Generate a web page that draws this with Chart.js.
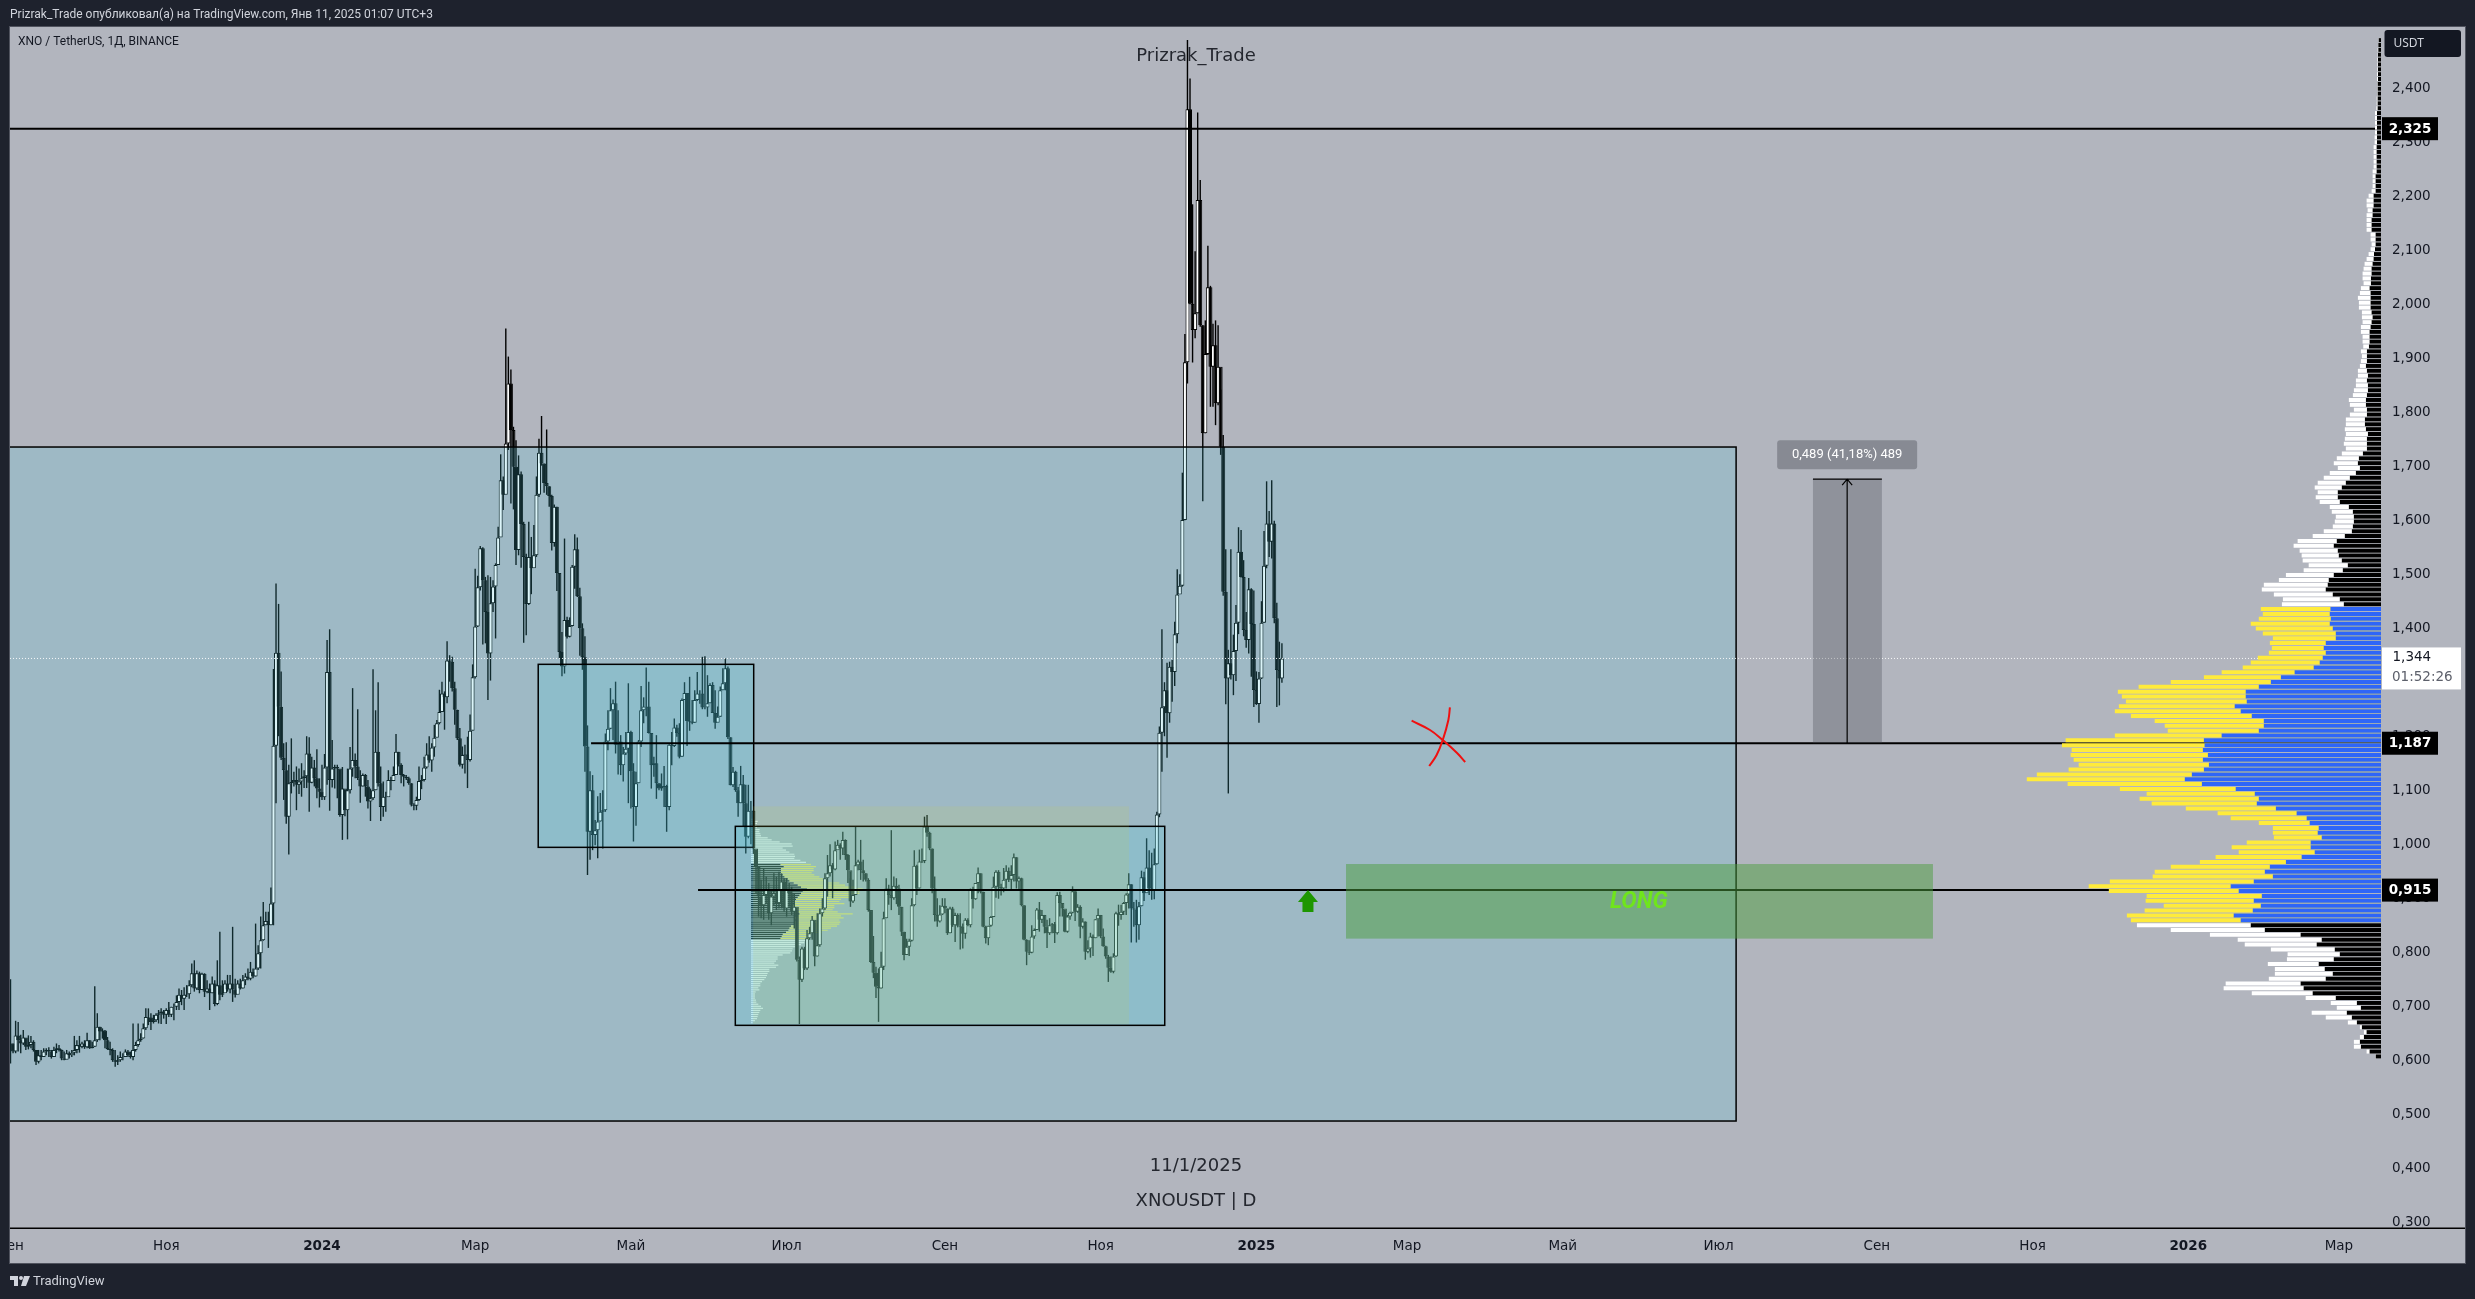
<!DOCTYPE html>
<html>
<head>
<meta charset="utf-8">
<title>XNOUSDT</title>
<style>
  html, body { margin: 0; padding: 0; background: #1e222d; }
  canvas { display: block; }
</style>
<script src="https://cdn.jsdelivr.net/npm/chart.js@4/dist/chart.umd.min.js"></script>
</head>
<body>
<canvas id="chart" width="2475" height="1299"></canvas>
<script>
// daily candles, day 0 is 1 Jan 2024, one row is ten days
const firstDay = -122;
const firstOpen = 0.63;
const closes = [
  .631,.616,.646,.637,.631,.642,.625,.628,.634,.619,
  .597,.609,.606,.616,.619,.616,.606,.619,.622,.619,
  .603,.601,.613,.609,.614,.619,.628,.625,.631,.624,
  .637,.622,.625,.637,.662,.653,.655,.637,.621,.619,
  .600,.597,.600,.606,.606,.616,.609,.606,.619,.628,
  .637,.640,.659,.680,.679,.671,.674,.684,.687,.690,
  .684,.693,.684,.699,.699,.708,.721,.714,.721,.722,
  .739,.761,.733,.761,.730,.760,.727,.733,.724,.742,
  .704,.739,.721,.724,.742,.731,.742,.731,.721,.742,
  .733,.748,.755,.751,.764,.755,.770,.798,.822,.850,
  .858,.850,.89,1.1825,1.3547,1.2547,1.160,1.137,1.051,1.113,
  1.115,1.119,1.110,1.116,1.122,1.126,1.168,1.114,1.142,1.122,
  1.103,1.097,1.087,1.142,1.319,1.119,1.140,1.143,1.14,1.054,
  1.103,1.063,1.100,1.140,1.156,1.144,1.122,1.107,1.128,1.107,
  1.079,1.085,1.100,1.171,1.113,1.069,1.088,1.087,1.119,1.117,
  1.128,1.171,1.147,1.128,1.125,1.122,1.113,1.073,1.071,1.082,
  1.117,1.119,1.142,1.166,1.155,1.179,1.197,1.224,1.245,1.279,
  1.272,1.340,1.338,1.289,1.249,1.196,1.147,1.165,1.166,1.156,
  1.21,1.309,1.403,1.476,1.548,1.489,1.430,1.353,1.446,1.477,
  1.517,1.568,1.674,1.647,1.742,1.853,1.767,1.699,1.545,1.685,
  1.593,1.532,1.445,1.532,1.511,1.535,1.647,1.725,1.705,1.669,
  1.663,1.645,1.558,1.625,1.502,1.356,1.329,1.415,1.384,1.404,
  1.514,1.546,1.459,1.400,1.346,1.181,1.023,1.100,1.017,1.026,
  1.042,1.060,1.063,1.19,1.214,1.248,1.261,1.184,1.19,1.146,
  1.168,1.177,1.208,1.135,1.069,1.113,1.19,1.248,1.255,1.255,
  1.206,1.146,1.15,1.113,1.103,1.106,1.108,1.069,1.184,1.182,
  1.216,1.206,1.162,1.267,1.28,1.228,1.227,1.225,1.267,1.279,
  1.279,1.253,1.253,1.261,1.295,1.243,1.225,1.236,1.285,1.298,
  1.326,1.198,1.109,1.134,1.100,1.076,1.111,1.076,1.014,1.062,
  1.062,.992,.958,.903,.887,.906,.915,.872,.903,.909,
  .891,.915,.931,.881,.918,.909,.875,.884,.786,.749,
  .807,.770,.826,.835,.860,.792,.813,.872,.881,.937,
  .946,.961,.953,.989,.999,.992,1.008,.980,.952,.894,
  .906,.961,.968,.952,.946,.934,.878,.782,.762,.736,
  .733,.773,.863,.918,.906,.900,.923,.918,.884,.838,
  .795,.810,.821,.887,.960,.918,.968,.969,1.033,1.021,
  .992,.918,.869,.857,.870,.886,.881,.835,.881,.850,
  .869,.849,.847,.834,.860,.850,.915,.898,.928,.946,
  .912,.847,.826,.849,.865,.921,.949,.921,.918,.934,
  .951,.934,.943,.976,.931,.937,.887,.823,.801,.799,
  .829,.841,.879,.860,.869,.847,.835,.850,.852,.835,
  .906,.891,.881,.838,.866,.873,.913,.875,.884,.847,
  .857,.801,.807,.829,.826,.861,.869,.829,.811,.792,
  .771,.764,.792,.872,.869,.875,.891,.907,.926,.881,
  .879,.850,.885,.939,.909,.957,.918,.915,.963,1.055,
  1.2065,1.2534,1.285,1.2423,1.3287,1.319,1.3886,1.4626,1.4787,1.6003,
  1.8923,2.361,2.001,1.952,1.983,2.193,1.961,1.7608,1.9077,2.0312,
  1.884,1.924,1.8164,1.884,1.7361,1.4676,1.307,1.3349,1.313,1.3577,
  1.41,1.5417,1.495,1.3966,1.378,1.4719,1.4077,1.2855,1.2596,1.307,
  1.41,1.5157,1.5941,1.5602,1.5941,1.4182,1.3225,1.307,1.344
];
const highs = [
  .750,.631,.673,.671,.647,.656,.640,.646,.645,.637,
  .619,.619,.619,.622,.622,.624,.619,.625,.631,.628,
  .620,.616,.619,.616,.619,.645,.637,.645,.634,.637,
  .651,.637,.634,.737,.687,.662,.659,.656,.643,.634,
  .622,.619,.609,.616,.613,.620,.619,.616,.668,.634,
  .668,.650,.668,.696,.696,.687,.684,.687,.693,.696,
  .693,.696,.708,.699,.705,.720,.733,.730,.735,.739,
  .748,.779,.785,.766,.764,.762,.761,.748,.742,.755,
  .748,.785,.838,.748,.748,.758,.758,.847,.751,.748,
  .751,.758,.761,.770,.782,.770,.853,.813,.866,.893,
  .875,.875,.92,1.3245,1.483,1.445,1.32,1.187,1.189,1.147,
  1.196,1.134,1.144,1.140,1.150,1.137,1.200,1.198,1.162,1.156,
  1.176,1.122,1.147,1.167,1.378,1.398,1.193,1.147,1.147,1.138,
  1.143,1.100,1.140,1.180,1.289,1.168,1.250,1.137,1.131,1.130,
  1.119,1.103,1.324,1.248,1.300,1.144,1.116,1.097,1.137,1.125,
  1.144,1.204,1.171,1.150,1.130,1.128,1.125,1.113,1.076,1.088,
  1.144,1.128,1.162,1.187,1.200,1.187,1.221,1.230,1.286,1.301,
  1.283,1.376,1.350,1.347,1.301,1.249,1.215,1.181,1.184,1.199,
  1.240,1.333,1.51,1.497,1.552,1.55,1.495,1.498,1.495,1.489,
  1.520,1.588,1.722,1.681,1.955,1.903,1.879,1.773,1.748,1.72,
  1.69,1.597,1.538,1.597,1.569,1.591,1.681,1.751,1.793,1.705,
  1.768,1.663,1.647,1.629,1.625,1.502,1.393,1.566,1.421,1.420,
  1.517,1.574,1.568,1.475,1.409,1.385,1.22,1.135,1.128,1.045,
  1.089,1.095,1.10,1.205,1.248,1.289,1.268,1.301,1.248,1.202,
  1.18,1.208,1.298,1.21,1.15,1.134,1.193,1.293,1.272,1.327,
  1.301,1.206,1.162,1.202,1.113,1.131,1.145,1.11,1.185,1.208,
  1.233,1.221,1.224,1.27,1.30,1.273,1.31,1.267,1.285,1.319,
  1.285,1.347,1.348,1.313,1.298,1.30,1.285,1.255,1.292,1.326,
  1.344,1.329,1.198,1.143,1.136,1.106,1.145,1.128,1.11,1.11,
  1.08,1.063,.97,.946,.934,.955,.94,.928,.915,.946,
  .94,.949,.946,.937,.937,.928,.921,.909,.878,.792,
  .810,.810,.841,.847,.867,.854,.872,.881,.900,.946,
  .980,1.0,.965,1.005,1.008,1.002,1.023,1.009,.982,.937,
  .934,1.033,.971,1.008,.971,.946,.937,.876,.830,.773,
  .770,.801,.875,.937,.925,1.026,.940,.937,.925,.884,
  .838,.825,.825,.900,.989,.962,.990,.992,1.051,1.054,
  1.023,.992,.940,.900,.887,.900,.900,.881,.884,.884,
  .873,.872,.872,.853,.863,.863,.918,.921,.928,.957,
  .946,.912,.849,.849,.867,.940,.952,.952,.927,.956,
  .961,.957,.961,.983,.976,.940,.938,.887,.824,.822,
  .850,.844,.882,.893,.878,.869,.860,.863,.854,.856,
  .911,.912,.890,.875,.869,.875,.922,.913,.889,.887,
  .863,.857,.822,.836,.833,.861,.881,.869,.844,.812,
  .795,.792,.798,.875,.888,.888,.893,.909,.946,.926,
  .893,.897,.893,.951,.949,1.011,.989,.984,.992,1.060,
  1.218,1.398,1.3,1.336,1.338,1.341,1.412,1.509,1.50,1.688,
  1.945,2.489,2.418,2.185,2.098,2.355,2.23,1.961,1.97,2.108,
  2.034,1.964,1.97,1.961,1.842,1.758,1.546,1.36,1.546,1.388,
  1.443,1.587,1.582,1.526,1.43,1.493,1.474,1.47,1.32,1.319,
  1.45,1.58,1.672,1.617,1.674,1.599,1.447,1.375,1.372
];
const lows = [
  .594,.613,.613,.616,.613,.628,.619,.620,.622,.616,
  .591,.594,.600,.606,.609,.606,.603,.609,.613,.616,
  .600,.600,.603,.603,.606,.609,.613,.614,.622,.621,
  .622,.621,.622,.625,.634,.637,.640,.622,.619,.609,
  .597,.588,.591,.597,.600,.606,.606,.603,.600,.616,
  .625,.634,.640,.656,.665,.656,.668,.671,.668,.667,
  .677,.667,.680,.680,.674,.693,.693,.702,.693,.717,
  .714,.735,.727,.730,.724,.733,.717,.724,.693,.724,
  .700,.702,.711,.717,.730,.727,.724,.708,.716,.733,
  .731,.733,.739,.748,.748,.752,.755,.767,.770,.821,
  .850,.808,.85,.85,1.076,1.2,1.156,1.082,1.038,.981,
  1.094,1.107,1.063,1.093,1.088,1.104,1.104,1.060,1.113,1.107,
  1.085,1.068,1.082,1.082,1.110,1.062,1.105,1.103,1.085,1.051,
  1.008,1.052,1.009,1.094,1.125,1.122,1.119,1.077,1.107,1.088,
  1.066,1.043,1.082,1.100,1.107,1.043,1.051,1.060,1.094,1.100,
  1.119,1.128,1.144,1.113,1.107,1.119,1.110,1.070,1.063,1.063,
  1.080,1.102,1.116,1.140,1.151,1.134,1.162,1.199,1.222,1.245,
  1.212,1.261,1.301,1.283,1.221,1.193,1.144,1.140,1.131,1.104,
  1.153,1.211,1.307,1.402,1.47,1.37,1.372,1.267,1.303,1.430,
  1.381,1.535,1.570,1.619,1.730,1.730,1.631,1.620,1.517,1.535,
  1.512,1.373,1.387,1.443,1.463,1.530,1.532,1.643,1.701,1.651,
  1.647,1.625,1.544,1.551,1.469,1.344,1.311,1.316,1.381,1.383,
  1.403,1.473,1.458,1.349,1.323,1.134,.943,.971,.989,.998,
  .974,1.042,.992,1.06,1.174,1.213,1.193,1.168,1.129,1.128,
  1.116,1.165,1.076,1.066,1.005,1.034,1.113,1.18,1.224,1.237,
  1.205,1.103,1.125,1.084,1.10,1.099,1.069,1.023,1.063,1.146,
  1.18,1.199,1.159,1.162,1.267,1.182,1.21,1.222,1.225,1.265,
  1.26,1.25,1.25,1.236,1.261,1.243,1.214,1.227,1.236,1.285,
  1.285,1.195,1.109,1.106,1.097,1.051,1.076,1.032,.983,1.011,
  1.0,.982,.909,.866,.863,.860,.891,.860,.850,.887,
  .878,.881,.881,.875,.866,.884,.869,.844,.783,.667,
  .745,.767,.767,.823,.823,.774,.792,.810,.866,.878,
  .903,.940,.900,.952,.992,.971,.980,.971,.928,.884,
  .891,.909,.952,.934,.931,.931,.875,.780,.752,.715,
  .671,.733,.767,.863,.888,.878,.897,.889,.869,.830,
  .785,.795,.793,.820,.885,.906,.918,.965,.965,1.014,
  .989,.909,.857,.847,.855,.869,.872,.832,.835,.847,
  .819,.846,.805,.807,.825,.848,.846,.881,.897,.909,
  .909,.846,.816,.813,.847,.865,.901,.899,.905,.911,
  .918,.930,.917,.931,.918,.915,.885,.822,.776,.795,
  .798,.825,.841,.838,.854,.835,.808,.832,.835,.817,
  .833,.866,.866,.837,.836,.860,.872,.858,.873,.826,
  .844,.786,.798,.790,.793,.826,.829,.826,.810,.788,
  .745,.762,.761,.791,.849,.860,.869,.869,.881,.818,
  .847,.818,.823,.885,.895,.910,.906,.897,.898,.962,
  1.05,1.134,1.2,1.16,1.225,1.264,1.293,1.372,1.467,1.477,
  1.60,1.853,2.0,1.892,1.937,1.983,1.958,1.635,1.761,1.906,
  1.81,1.81,1.776,1.813,1.721,1.46,1.259,1.094,1.305,1.276,
  1.302,1.389,1.494,1.385,1.364,1.353,1.31,1.254,1.258,1.225,
  1.306,1.41,1.511,1.532,1.529,1.409,1.254,1.257,1.299
];

// volume profile on the right edge, rows from the top price to the bottom price
const vpTop = 2.489;
const vpBottom = 0.607;
const vaHigh = 1.44;
const vaLow = 0.855;
const vpTotal = [
  8,9,10,10,11,11,11,12,12,12,12,12,13,13,14,18,18,18,18,18,19,19,22,22,22,22,22,25,25,25,25,28,37,43,43,40,43,43,43,43,
  31,31,28,31,37,43,49,52,55,55,52,60,63,69,66,66,57,57,55,60,60,55,55,53,60,57,60,63,69,69,75,75,81,84,96,93,81,93,105,105,
  108,105,108,111,105,117,132,141,129,153,171,189,198,189,195,183,153,147,135,138,144,171,204,249,261,243,237,234,216,231,284,305,350,356,320,293,296,
  359,353,365,389,374,353,323,332,326,335,368,389,413,476,529,628,724,786,774,762,783,795,747,676,646,637,795,942,953,924,
  927,918,903,933,1028,1058,936,780,700,721,685,583,488,449,365,323,323,320,401,446,425,494,541,628,676,682,810,873,813,700,
  703,649,706,759,747,
  729,628,511,428,407,329,279,281,338,317,317,335,464,470,386,225,150,132,207,165,99,63,51,63,81,81,43,18
];
const vpDown = [
  7,8,8,9,9,9,9,9,9,10,10,10,10,10,10,12,12,12,12,12,12,12,13,13,13,13,13,13,16,16,16,16,22,22,22,25,25,28,28,28,
  16,16,16,18,21,22,25,28,28,30,30,34,31,31,31,31,28,25,28,31,34,34,34,36,42,42,42,45,42,39,42,39,39,42,45,45,42,42,48,48,
  45,39,42,42,42,54,66,69,63,75,93,105,117,129,129,123,96,84,81,81,84,87,108,132,141,129,126,117,99,114,141,156,159,165,144,123,111,
  151,153,150,153,144,135,135,165,171,165,174,183,201,258,299,329,365,404,404,401,437,419,386,350,350,365,476,529,527,532,
  517,532,514,529,565,586,535,434,377,365,371,314,252,222,213,186,189,177,210,210,198,237,284,332,347,323,380,449,425,356,
  380,359,383,440,419,
  389,347,240,177,192,138,123,141,186,168,144,165,240,231,204,135,72,60,102,87,72,57,43,51,63,60,34,16
];

// small volume profile anchored left, Jun 2024 onwards
const smallVpTop = 1.0461;
const smallVpBottom = 0.6694;
const smallVpTotal = [
  10,20,18,16,18,26,25,28,30,50,62,86,122,125,95,105,115,130,132,130,148,165,
  180,195,188,188,182,190,205,215,230,265,282,312,335,325,325,300,295,270,265,280,250,250,245,260,305,270,278,265,268,265,258,240,230,212,180,175,175,
  165,160,150,140,125,123,118,95,80,80,75,70,82,75,55,55,50,48,45,40,33,28,28,22,25,14,12,12,12,15,16,22,30,36,28,25,22,20,18,12,5
];
const smallVpDown = [
  0,0,0,0,0,0,0,0,0,0,0,0,0,0,0,0,0,0,0,0,0,0,
  88,98,90,90,90,95,100,110,115,128,140,150,168,155,150,145,140,135,130,130,125,125,120,135,145,140,130,135,130,130,120,115,112,105,95,92,88,
  0,0,0,0,0,0,0,0,0,0,0,0,0,0,0,0,0,0,0,0,0,0,0,0,0,0,0,0,0,0,0,0,0,0,0,0,0,0,0,0,0
];

const priceTicks = [2.4,2.3,2.2,2.1,2.0,1.9,1.8,1.7,1.6,1.5,1.4,1.3,1.2,1.1,1.0,0.9,0.8,0.7,0.6,0.5,0.4,0.3];
const timeTicks = [-122,-61,0,60,121,182,244,305,366,425,486,547,609,670,731,790];
const timeLabels = ["Сен","Ноя","2024","Мар","Май","Июл","Сен","Ноя","2025","Мар","Май","Июл","Сен","Ноя","2026","Мар"];

// drawn levels: price and the day they start from
const levelPrices = [2.325, 1.187, 0.915];
const levelStarts = [-123, 105.4, 147.3];
const lastPrice = 1.344;
const dayMin = -122.2;
const dayMax = 806.5;

// zones as [first day, last day, top price, bottom price]
const bigZone = [-130, 553.9, 1.7355, 0.4874];
const rangeZoneA = [84.7, 169.1, 1.3331, 0.9942];
const rangeZoneB = [161.9, 330.1, 1.0331, 0.6646];
const sandZone = [168.9, 316.1, 1.0701, 0.667];
const longZone = [401.1, 631, 0.9633, 0.8252];
const measureZone = [584, 611, 1.676, 1.187];
const measureDay = 597.4;
const arrowDay = 386.2;
const longLabelDay = 515.8;
const longLabelPrice = 0.893;

// red cross, two hand drawn strokes
const crossA = [[426.8,1.2287],[434,1.2115],[439,1.1929],[444.5,1.1694],[447.8,1.1522]];
const crossB = [[441.8,1.2535],[441.2,1.23],[439,1.1929],[436.6,1.1652],[433.7,1.1448]];

const opens = closes.map((c, i) => (i === 0 ? firstOpen : closes[i - 1]));
const vpPrice = (i, n, top, bottom) => top - (i * (top - bottom)) / (n - 1);
const fmt = (v) => v.toFixed(3).replace(".", ",");
const toPoints = (list) => list.map((p) => ({ x: p[0], y: p[1] }));

const chartBg = "#b2b5be";
const frameBg = "#1e222d";
const inkColor = "#131722";
const tickFont = "DejaVu Sans";

function boxPath(chart, zone) {
  const x0 = chart.scales.x.getPixelForValue(zone[0]);
  const x1 = chart.scales.x.getPixelForValue(zone[1]);
  const y0 = chart.scales.y.getPixelForValue(zone[2]);
  const y1 = chart.scales.y.getPixelForValue(zone[3]);
  return [x0, y0, x1 - x0, y1 - y0];
}

function clipToPlot(chart) {
  const a = chart.chartArea;
  chart.ctx.beginPath();
  chart.ctx.rect(a.left, a.top, a.right - a.left, a.bottom - a.top);
  chart.ctx.clip();
}

function drawZones(chart) {
  const ctx = chart.ctx;
  ctx.save();
  clipToPlot(chart);
  ctx.fillStyle = "rgba(80,203,226,0.2)";
  ctx.strokeStyle = "#000";
  ctx.lineWidth = 1.5;
  [bigZone, rangeZoneA, rangeZoneB].forEach((z) => {
    const r = boxPath(chart, z);
    ctx.fillRect(r[0], r[1], r[2], r[3]);
    ctx.strokeRect(r[0], r[1], r[2], r[3]);
  });
  const s = boxPath(chart, sandZone);
  ctx.fillStyle = "rgba(210,210,59,0.13)";
  ctx.fillRect(s[0], s[1], s[2], s[3]);
  ctx.restore();
}

function drawTools(chart) {
  const ctx = chart.ctx;
  const xs = chart.scales.x;
  const ys = chart.scales.y;
  ctx.save();
  clipToPlot(chart);

  const g = boxPath(chart, longZone);
  ctx.fillStyle = "rgba(75,158,62,0.5)";
  ctx.fillRect(g[0], g[1], g[2], g[3]);
  ctx.font = "italic bold 23px Roboto";
  ctx.fillStyle = "#6fe51c";
  ctx.textAlign = "center";
  ctx.textBaseline = "middle";
  ctx.fillText("LONG", xs.getPixelForValue(longLabelDay), ys.getPixelForValue(longLabelPrice));

  // price range tool
  const m = boxPath(chart, measureZone);
  ctx.fillStyle = "rgba(62,66,76,0.3)";
  ctx.fillRect(m[0], m[1], m[2], m[3]);
  const mx = xs.getPixelForValue(measureDay);
  ctx.strokeStyle = "#000";
  ctx.lineWidth = 1.2;
  ctx.beginPath();
  ctx.moveTo(m[0], m[1]);
  ctx.lineTo(m[0] + m[2], m[1]);
  ctx.moveTo(mx, m[1] + m[3]);
  ctx.lineTo(mx, m[1]);
  ctx.moveTo(mx - 5, m[1] + 6);
  ctx.lineTo(mx, m[1]);
  ctx.lineTo(mx + 5, m[1] + 6);
  ctx.stroke();
  ctx.fillStyle = "#878a93";
  ctx.beginPath();
  ctx.roundRect(mx - 70, m[1] - 39, 140, 29, 3);
  ctx.fill();
  ctx.fillStyle = "#fff";
  ctx.font = "13px Roboto";
  ctx.fillText("0,489 (41,18%) 489", mx, m[1] - 24);

  // green arrow under the 0,915 level
  const ax = xs.getPixelForValue(arrowDay);
  const ay = ys.getPixelForValue(levelPrices[2]);
  ctx.fillStyle = "#1e9600";
  ctx.beginPath();
  ctx.moveTo(ax, ay);
  ctx.lineTo(ax + 10, ay + 12);
  ctx.lineTo(ax + 5.5, ay + 12);
  ctx.lineTo(ax + 5.5, ay + 22);
  ctx.lineTo(ax - 5.5, ay + 22);
  ctx.lineTo(ax - 5.5, ay + 12);
  ctx.lineTo(ax - 10, ay + 12);
  ctx.closePath();
  ctx.fill();
  ctx.restore();
}

function priceTag(ctx, y, text) {
  ctx.fillStyle = "#000";
  ctx.fillRect(2382, y - 11.5, 56, 23);
  ctx.fillStyle = "#fff";
  ctx.font = "bold 13.5px 'DejaVu Sans'";
  ctx.textAlign = "center";
  ctx.textBaseline = "middle";
  ctx.fillText(text, 2410, y + 0.5);
}

const layersPlugin = {
  id: "layers",
  beforeDraw(chart) {
    const ctx = chart.ctx;
    ctx.fillStyle = frameBg;
    ctx.fillRect(0, 0, chart.width, chart.height);
    ctx.fillStyle = chartBg;
    ctx.fillRect(10, 27, 2455, 1236);
  },
  afterDatasetDraw(chart, args) {
    const name = chart.data.datasets[args.index].label;
    if (name === "bodies") drawZones(chart);
    if (name === "crossB") drawTools(chart);
  },
  afterDraw(chart) {
    const ctx = chart.ctx;
    const ys = chart.scales.y;

    // time axis line
    ctx.fillStyle = "#000";
    ctx.fillRect(10, 1227.5, 2455, 1.5);

    // hide the part of the first month label that falls off the chart
    ctx.fillStyle = frameBg;
    ctx.fillRect(0, 1200, 10, 99);
    ctx.strokeStyle = "#50535e";
    ctx.lineWidth = 1;
    ctx.strokeRect(9.5, 26.5, 2456, 1237);

    // price axis tags
    ctx.fillStyle = inkColor;
    ctx.beginPath();
    ctx.roundRect(2384.5, 30, 76.5, 27, 3);
    ctx.fill();
    ctx.fillStyle = "#d1d4dc";
    ctx.font = "12px 'Noto Sans'";
    ctx.textAlign = "left";
    ctx.textBaseline = "middle";
    ctx.fillText("USDT", 2393.5, 44);

    levelPrices.forEach((p) => priceTag(ctx, ys.getPixelForValue(p), fmt(p)));

    const ly = ys.getPixelForValue(lastPrice);
    ctx.fillStyle = "#fff";
    ctx.fillRect(2382, ly - 11, 79, 42);
    ctx.fillStyle = inkColor;
    ctx.font = "13.5px 'DejaVu Sans'";
    ctx.textAlign = "left";
    ctx.fillText(fmt(lastPrice), 2392.5, ly - 1);
    ctx.fillStyle = "#5d606b";
    ctx.fillText("01:52:26", 2392, ly + 19);

    // header, footer, watermark
    ctx.fillStyle = "#d1d4dc";
    ctx.font = "12px Roboto";
    ctx.fillText("Prizrak_Trade опубликовал(а) на TradingView.com, Янв 11, 2025 01:07 UTC+3", 10, 15);
    ctx.fillStyle = inkColor;
    ctx.font = "12px Roboto";
    ctx.fillText("XNO / TetherUS, 1Д, BINANCE", 18, 41.5);

    ctx.font = "18px 'DejaVu Sans'";
    ctx.textAlign = "center";
    ctx.fillStyle = "#24272f";
    ctx.fillText("Prizrak_Trade", 1196, 56.5);
    ctx.fillText("11/1/2025", 1196, 1166);
    ctx.fillText("XNOUSDT | D", 1196, 1201.5);

    ctx.fillStyle = "#d1d4dc";
    ctx.textAlign = "left";
    ctx.font = "13px Roboto";
    ctx.fillText("TradingView", 33, 1282);
    ctx.beginPath();
    ctx.moveTo(10, 1276);
    ctx.lineTo(18, 1276);
    ctx.lineTo(18, 1286);
    ctx.lineTo(14, 1286);
    ctx.lineTo(14, 1280);
    ctx.lineTo(10, 1280);
    ctx.closePath();
    ctx.arc(21, 1278, 2, 0, 2 * Math.PI);
    ctx.moveTo(24, 1276);
    ctx.lineTo(30, 1276);
    ctx.lineTo(26, 1286);
    ctx.lineTo(21, 1286);
    ctx.closePath();
    ctx.fill();
  },
};

const candleDays = closes.map((c, i) => firstDay + i);
const isUp = closes.map((c, i) => c >= opens[i]);

const datasets = [
  {
    type: "bar",
    label: "smallTotal",
    order: 100,
    indexAxis: "y",
    xAxisID: "volLeft",
    yAxisID: "y",
    grouped: false,
    barThickness: 1.2,
    inflateAmount: 0,
    data: smallVpTotal.map((v, i) => ({ x: [smallVpDown[i], v], y: vpPrice(i, smallVpTotal.length, smallVpTop, smallVpBottom) })),
    backgroundColor: smallVpDown.map((d) => (d > 0 ? "#ffee58" : "#fff")),
  },
  {
    type: "bar",
    label: "smallDown",
    order: 99,
    indexAxis: "y",
    xAxisID: "volLeft",
    yAxisID: "y",
    grouped: false,
    barThickness: 1.2,
    inflateAmount: 0,
    data: smallVpDown.map((v, i) => ({ x: v, y: vpPrice(i, smallVpTotal.length, smallVpTop, smallVpBottom) })),
    backgroundColor: "#000",
  },
  {
    type: "bar",
    label: "wicks",
    order: 90,
    grouped: false,
    barThickness: 1.4,
    inflateAmount: 0,
    data: candleDays.map((d, i) => ({ x: d, y: [lows[i], highs[i]] })),
    backgroundColor: "#000",
  },
  {
    type: "bar",
    label: "bodies",
    order: 89,
    grouped: false,
    barThickness: 4,
    inflateAmount: 0,
    borderWidth: 1,
    borderSkipped: false,
    borderColor: "#000",
    data: candleDays.map((d, i) => ({ x: d, y: [opens[i], closes[i]] })),
    backgroundColor: isUp.map((u) => (u ? "#fff" : "#000")),
  },
];

levelPrices.forEach((p, i) => {
  datasets.push({
    type: "line",
    label: "level" + i,
    order: 80 - i,
    data: [{ x: levelStarts[i], y: p }, { x: dayMax, y: p }],
    borderColor: "#000",
    borderWidth: 2,
    pointRadius: 0,
  });
});

datasets.push(
  {
    type: "line",
    label: "last",
    order: 77,
    data: [{ x: dayMin, y: lastPrice }, { x: dayMax, y: lastPrice }],
    borderColor: "rgba(255,255,255,0.9)",
    borderWidth: 1,
    borderDash: [1, 2],
    pointRadius: 0,
  },
  {
    type: "line",
    label: "crossA",
    order: 76,
    data: toPoints(crossA),
    borderColor: "#f01010",
    borderWidth: 2,
    tension: 0.4,
    pointRadius: 0,
  },
  {
    type: "line",
    label: "crossB",
    order: 75,
    data: toPoints(crossB),
    borderColor: "#f01010",
    borderWidth: 2,
    tension: 0.4,
    pointRadius: 0,
  },
  {
    type: "bar",
    label: "vpTotal",
    order: 10,
    indexAxis: "y",
    xAxisID: "vol",
    yAxisID: "y",
    grouped: false,
    barThickness: 4,
    inflateAmount: 0,
    data: vpTotal.map((v, i) => ({ x: v, y: vpPrice(i, vpTotal.length, vpTop, vpBottom) })),
    backgroundColor: vpTotal.map((v, i) => {
      const p = vpPrice(i, vpTotal.length, vpTop, vpBottom);
      return p < vaHigh && p > vaLow ? "#ffeb3b" : "#fff";
    }),
  },
  {
    type: "bar",
    label: "vpDown",
    order: 9,
    indexAxis: "y",
    xAxisID: "vol",
    yAxisID: "y",
    grouped: false,
    barThickness: 4,
    inflateAmount: 0,
    data: vpDown.map((v, i) => ({ x: v, y: vpPrice(i, vpTotal.length, vpTop, vpBottom) })),
    backgroundColor: vpDown.map((v, i) => {
      const p = vpPrice(i, vpTotal.length, vpTop, vpBottom);
      return p < vaHigh && p > vaLow ? "#2f66f8" : "#000";
    }),
  }
);

// bold for the year labels
function timeTickFont(c) {
  const label = c.tick ? timeLabels[timeTicks.indexOf(c.tick.value)] : "";
  return { family: tickFont, size: 13.5, weight: /^\d/.test(label || "") ? "bold" : "normal" };
}

new Chart(document.getElementById("chart").getContext("2d"), {
  type: "bar",
  data: { datasets },
  plugins: [layersPlugin],
  options: {
    responsive: false,
    animation: false,
    devicePixelRatio: 1,
    layout: { autoPadding: false, padding: { left: 10, top: 27, right: 10, bottom: 36 } },
    plugins: { legend: { display: false }, tooltip: { enabled: false } },
    scales: {
      x: {
        type: "linear",
        position: "bottom",
        offset: false,
        min: dayMin,
        max: dayMax,
        grid: { display: false, drawTicks: false, offset: false },
        border: { display: false },
        // no room for the first month label, it runs off the chart like in the original
        afterFit: (s) => { s.height = 35; s.paddingLeft = 0; s.paddingRight = 0; },
        afterBuildTicks: (s) => { s.ticks = timeTicks.map((v) => ({ value: v })); },
        ticks: {
          autoSkip: false,
          maxRotation: 0,
          padding: 10,
          color: inkColor,
          font: timeTickFont,
          callback: (v) => timeLabels[timeTicks.indexOf(v)],
        },
      },
      y: {
        type: "linear",
        position: "right",
        offset: false,
        min: 0.2893,
        max: 2.5133,
        grid: { display: false, drawTicks: false, offset: false },
        border: { display: false },
        afterFit: (s) => { s.width = 84; s.paddingTop = 0; s.paddingBottom = 0; },
        afterBuildTicks: (s) => { s.ticks = priceTicks.map((v) => ({ value: v })); },
        ticks: {
          autoSkip: false,
          padding: 11,
          color: inkColor,
          font: { family: tickFont, size: 13.5 },
          callback: (v) => fmt(v),
        },
      },
      vol: {
        axis: "x",
        type: "linear",
        display: false,
        reverse: true,
        offset: false,
        min: 0,
        max: 7082,
      },
      volLeft: {
        axis: "x",
        type: "linear",
        display: false,
        offset: false,
        min: -2223,
        max: 4890,
      },
    },
  },
});
</script>
</body>
</html>
